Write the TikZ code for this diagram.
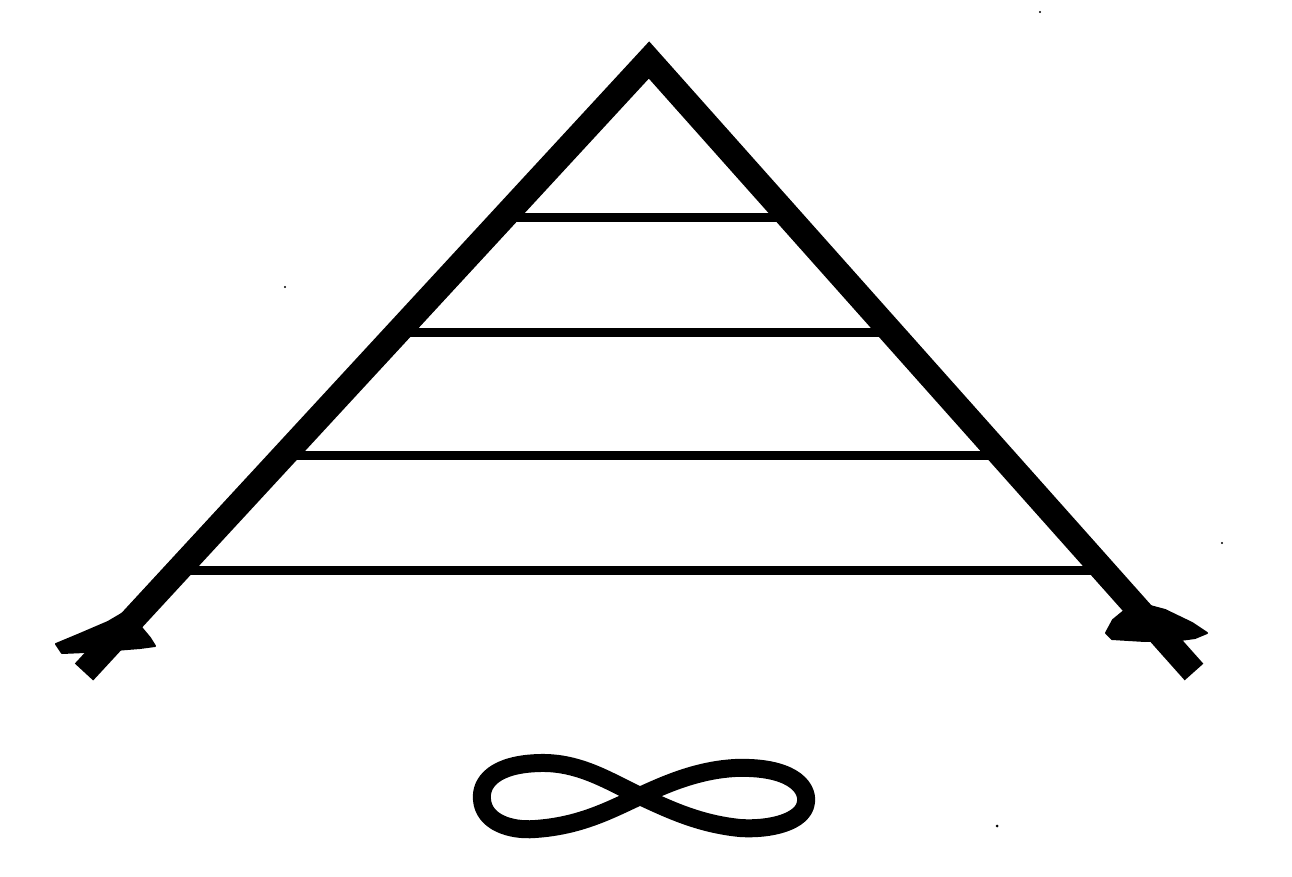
\documentclass[tikz,border=0pt]{standalone}
\begin{document}
\begin{tikzpicture}[x=1pt,y=-1pt,
  rung/.style={line width=9pt},
  leg/.style={line width=25pt, line join=miter},
  wing/.style={fill=black, draw=black, line width=2pt, line join=round},
  loop/.style={line width=18pt, line join=round},
  speck/.style={fill=black}]
\useasboundingbox (0,0) rectangle (1292,877);
% apex and leg ends
\coordinate (apex) at (649,60);
\coordinate (lfoot) at (84,672);
\coordinate (rfoot) at (1194,672);
% rungs
\coordinate (r1l) at (500,218); \coordinate (r1r) at (795,218);
\coordinate (r2l) at (395,332); \coordinate (r2r) at (895,332);
\coordinate (r3l) at (285,455); \coordinate (r3r) at (1000,455);
\coordinate (r4l) at (180,570); \coordinate (r4r) at (1105,570);
\draw[rung] (r1l) -- (r1r);
\draw[rung] (r2l) -- (r2r);
\draw[rung] (r3l) -- (r3r);
\draw[rung] (r4l) -- (r4r);
% legs
\draw[leg] (lfoot) -- (apex) -- (rfoot);
% feet
\filldraw[wing] (56,644) -- (80,634) -- (108,622) -- (125,612) -- (140,626) -- (150,638) -- (155,646) -- (140,648) -- (115,650) -- (85,652) -- (62,653) -- cycle;
\filldraw[wing] (1106,633) -- (1113,620) -- (1135,602) -- (1165,610) -- (1192,623) -- (1207,633) -- (1195,638) -- (1180,640) -- (1145,641) -- (1112,639) -- cycle;
% infinity
\coordinate (x) at (640,796);
\draw[loop] (x) .. controls (670,782) and (700,770) .. (735,768)
  .. controls (790,766) and (808,786) .. (806,802)
  .. controls (804,822) and (770,830) .. (740,828)
  .. controls (700,824) and (670,810) .. (x)
  .. controls (610,782) and (580,762) .. (540,763)
  .. controls (495,764) and (480,782) .. (482,800)
  .. controls (484,822) and (510,831) .. (535,829)
  .. controls (580,826) and (610,810) .. (x) -- cycle;
% specks
\fill[speck] (1040,12) circle (1.2);
\fill[speck] (285,287) circle (1.2);
\fill[speck] (1222,543) circle (1.2);
\fill[speck] (997,826) circle (1.5);
\end{tikzpicture}
\end{document}
